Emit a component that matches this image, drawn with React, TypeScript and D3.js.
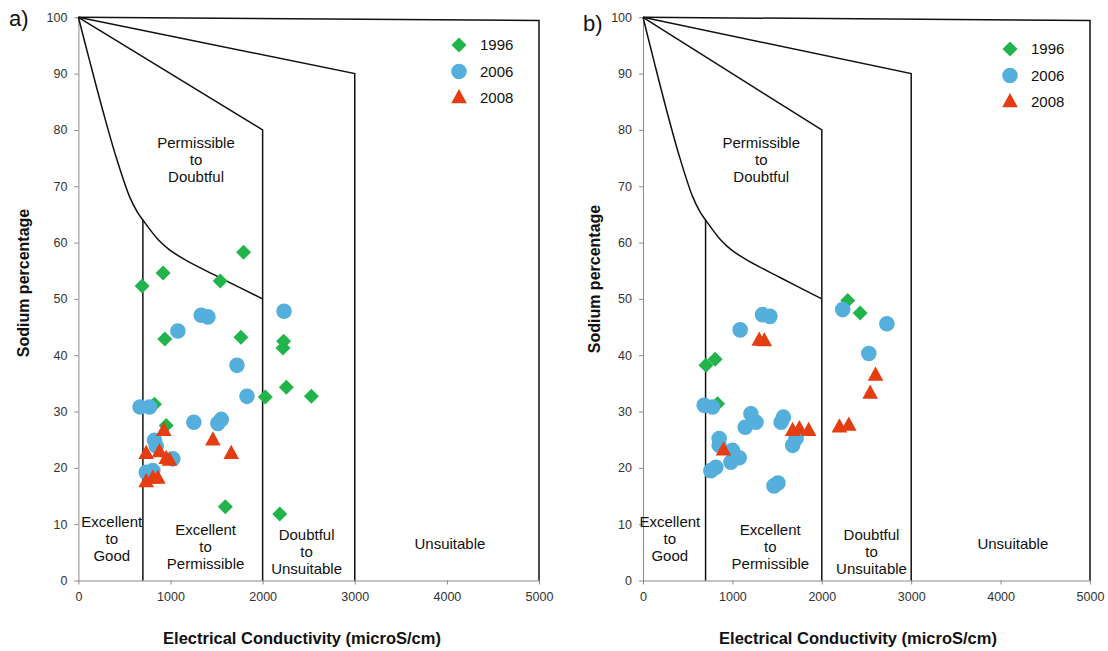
import { useEffect, useRef } from 'react';
import * as d3 from 'd3';

type Pt = [number, number]; // [EC microS/cm, Na %]

// ---- panel a ----
const a1996: Pt[] = [
  [692, 52.3], [920, 54.6], [1540, 53.2], [1793, 58.3], [938, 42.9], [1764, 43.2],
  [2228, 42.5], [2221, 41.3], [2257, 34.3], [2029, 32.6], [2529, 32.7], [826, 31.3],
  [953, 27.5], [1595, 13.1], [2186, 11.8],
];
const a2006: Pt[] = [
  [2232, 47.8], [1333, 47.1], [1406, 46.8], [1080, 44.3], [1721, 38.2], [1830, 32.7],
  [670, 30.8], [772, 30.8], [1253, 28.1], [1551, 28.6], [1514, 27.9], [826, 24.9],
  [845, 23.9], [1025, 21.6], [736, 19.2], [808, 19.5],
];
const a2008: Pt[] = [
  [927, 26.6], [1460, 24.9], [1659, 22.5], [736, 22.5], [880, 22.8], [953, 21.6],
  [989, 21.3], [736, 17.5], [808, 18.1], [862, 18.1],
];

// ---- panel b ----
const b1996: Pt[] = [
  [704, 38.2], [807, 39.3], [834, 31.4], [2290, 49.7], [2429, 47.5],
];
const b2006: Pt[] = [
  [2234, 48.1], [1337, 47.2], [1420, 46.9], [1087, 44.5], [684, 31.1], [777, 30.8],
  [1207, 29.6], [1264, 28.1], [1143, 27.2], [1570, 29.0], [1544, 28.1], [1712, 25.2],
  [1674, 24.0], [852, 25.2], [852, 24.0], [1001, 23.1], [1076, 21.8], [983, 21.0],
  [759, 19.5], [815, 20.1], [1465, 16.8], [1510, 17.3], [2728, 45.6], [2526, 40.3],
];
const b2008: Pt[] = [
  [1300, 42.6], [1357, 42.5], [900, 23.1], [1674, 26.6], [1749, 26.9], [1853, 26.6],
  [2197, 27.2], [2302, 27.5], [2601, 36.4], [2541, 33.2],
];

const years = ['1996', '2006', '2008'];
const colors = ['#21b44b', '#55afdc', '#e63c12'];
const xTicks = [0, 1000, 2000, 3000, 4000, 5000];
const yTicks = [0, 10, 20, 30, 40, 50, 60, 70, 80, 90, 100];

// Wilcox class boundaries
const curveLine: Pt[] = [
  [0, 100], [120, 92.4], [264, 83.5], [409, 75.2], [554, 68.2], [640, 65.4],
  [700, 64.0], [862, 60.6], [989, 58.7], [1174, 56.8], [1533, 53.8], [2000, 50],
];
const line2000: Pt[] = [[0, 100], [2000, 80], [2000, 0]];
const line3000: Pt[] = [[0, 100], [3000, 90], [3000, 0]];
const line700: Pt[] = [[700, 64.0], [700, 0]];
const frameLine: Pt[] = [[0, 100], [5000, 99.45], [5000, 0]];

const zoneText = [
  ['Permissible', 'to', 'Doubtful'],
  ['Excellent', 'to', 'Good'],
  ['Excellent', 'to', 'Permissible'],
  ['Doubtful', 'to', 'Unsuitable'],
  ['Unsuitable'],
];
const zoneNa = [77.8, 10.4, 9.0, 8.1, 6.5];

const panels = [
  {
    tag: 'a)', tagX: 9, tagY: 26, xr: [78.4, 539], series: [a1996, a2006, a2008],
    zoneEC: [1277, 362, 1381, 2477, 4033], legend: [459, 45], titleX: 302, yTitleX: 23, yTitleY: 283,
  },
  {
    tag: 'b)', tagX: 583, tagY: 31, xr: [643, 1090], series: [b1996, b2006, b2008],
    zoneEC: [1323, 300, 1424, 2556, 4137], legend: [1010, 49], titleX: 858, yTitleX: 594, yTitleY: 279,
  },
];

const FONT = '"Liberation Sans", Arial, sans-serif';

function marker(kind: number) {
  if (kind === 0) return 'M0,-7.5L7.5,0L0,7.5L-7.5,0Z';
  if (kind === 1) return d3.symbol(d3.symbolCircle, Math.PI * 7.8 * 7.8)()!;
  return 'M0,-9L7.8,5.2L-7.8,5.2Z';
}

export default function App() {
  const ref = useRef<SVGSVGElement>(null);

  useEffect(() => {
    if (!ref.current) return;
    const svg = d3.select(ref.current);
    svg.selectAll('*').remove();

    const y = d3.scaleLinear().domain([0, 100]).range([580.5, 17.3]);

    panels.forEach(p => {
      const x = d3.scaleLinear().domain([0, 5000]).range(p.xr);
      const g = svg.append('g');

      // axes
      const ya = g.append('g').attr('transform', `translate(${x(0)},0)`)
        .call(d3.axisLeft(y).tickValues(yTicks).tickSize(4).tickSizeOuter(0).tickPadding(7));
      const xa = g.append('g').attr('transform', `translate(0,${y(0)})`)
        .call(d3.axisBottom(x).tickValues(xTicks).tickFormat(d3.format('d'))
          .tickSize(4).tickSizeOuter(0).tickPadding(8));
      [ya, xa].forEach(a => {
        a.select('.domain').attr('stroke', '#8a8a8a');
        a.selectAll('.tick line').attr('stroke', '#8a8a8a');
        a.selectAll('.tick text').attr('fill', '#333').style('font', `12.5px ${FONT}`);
      });

      // boundaries
      const ln = d3.line<Pt>().x(d => x(d[0])).y(d => y(d[1]));
      const lnCurve = d3.line<Pt>().x(d => x(d[0])).y(d => y(d[1])).curve(d3.curveCatmullRom.alpha(0.5));
      [frameLine, line3000, line2000, line700].forEach(l => {
        g.append('path').attr('d', ln(l)!).attr('fill', 'none')
          .attr('stroke', '#111').attr('stroke-width', 1.5);
      });
      g.append('path').attr('d', lnCurve(curveLine)!).attr('fill', 'none')
        .attr('stroke', '#111').attr('stroke-width', 1.5);

      // zone labels
      zoneText.forEach((lines, i) => {
        const t = g.append('text').attr('text-anchor', 'middle')
          .style('font', `15px ${FONT}`).attr('fill', '#111');
        lines.forEach((s, j) => {
          t.append('tspan').attr('x', x(p.zoneEC[i])).attr('y', y(zoneNa[i]) + j * 17)
            .attr('dy', '0.35em').text(s);
        });
      });

      // points
      p.series.forEach((pts, k) => {
        g.append('g').selectAll('path').data(pts).enter().append('path')
          .attr('d', marker(k))
          .attr('transform', d => `translate(${x(d[0])},${y(d[1])})`)
          .attr('fill', colors[k]);
      });

      // legend
      years.forEach((yr, k) => {
        const ly = p.legend[1] + k * 26.5;
        g.append('path').attr('d', marker(k)).attr('fill', colors[k])
          .attr('transform', `translate(${p.legend[0]},${ly})`);
        g.append('text').attr('x', p.legend[0] + 21).attr('y', ly).attr('dy', '0.35em')
          .style('font', `15px ${FONT}`).attr('fill', '#111').text(yr);
      });

      // titles
      g.append('text').attr('x', p.tagX).attr('y', p.tagY)
        .style('font', `22px ${FONT}`).attr('fill', '#111').text(p.tag);
      g.append('text').attr('transform', `translate(${p.yTitleX},${p.yTitleY}) rotate(-90)`)
        .attr('text-anchor', 'middle').attr('dy', '0.35em')
        .style('font', `bold 16px ${FONT}`).attr('fill', '#111').text('Sodium percentage');
      g.append('text').attr('x', p.titleX).attr('y', 638).attr('text-anchor', 'middle')
        .attr('dy', '0.35em').style('font', `bold 16.5px ${FONT}`).attr('fill', '#111')
        .text('Electrical Conductivity (microS/cm)');
    });
  }, []);

  return (
    <svg ref={ref} width={1108} height={651}
      style={{ position: 'absolute', left: 0, top: 0, background: '#fff' }} />
  );
}
